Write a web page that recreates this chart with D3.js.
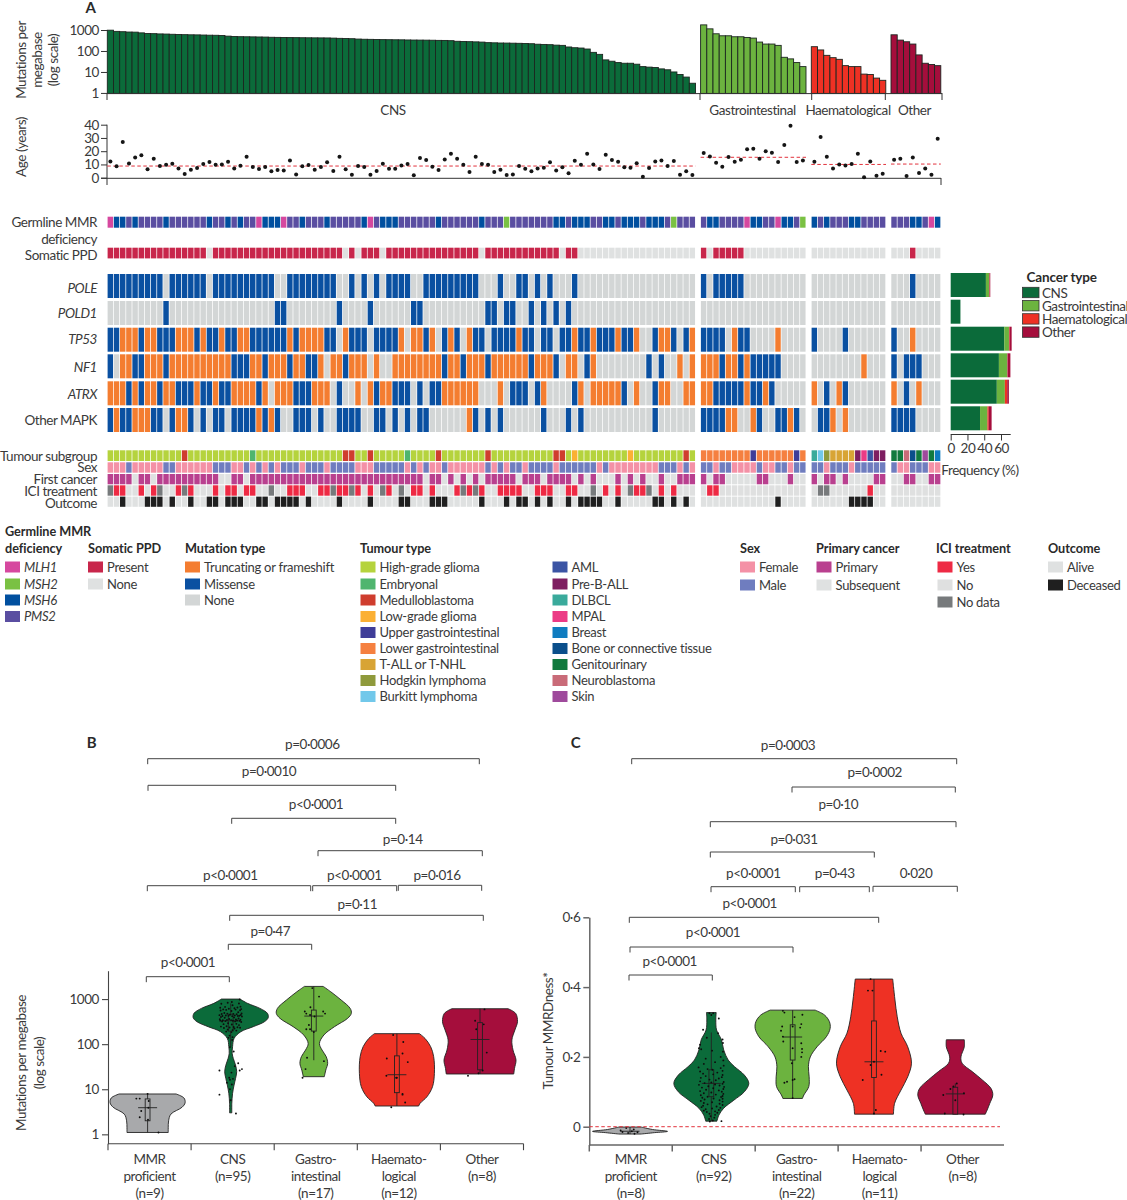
<!DOCTYPE html>
<html><head><meta charset="utf-8">
<script src="https://cdn.jsdelivr.net/npm/d3@7"></script>
<style>body{margin:0;background:#fff}svg{display:block}text{font-family:Lato,"Noto Sans",sans-serif;fill:#3a3a3a;letter-spacing:-.45px}</style>
</head><body><div id="c"></div>
<script>
// ---------- DATA ----------
const groupNames=["CNS","Gastrointestinal","Haematological","Other"];
const tmbCNS=[980,860,830,800,790,730,680,670,650,640,625,610,600,590,585,575,565,560,545,510,490,480,475,470,465,460,450,445,440,435,432,428,425,422,420,418,410,400,392,385,370,362,358,352,348,345,342,340,335,332,330,328,325,320,318,310,290,282,278,272,265,250,245,240,238,235,232,228,222,210,205,200,190,185,155,143,138,124,86,69,37.6,32.5,28,26,26,23.4,18,17,16.3,14,12.7,10,7.6,5.7,2.9];
const tmbGI=[1754,1135,660,530,530,476,476,442,411,266,214,214,185,50,42,28,18];
const tmbHaem=[160,112,62,48,40,20,18,18,7.9,7.6,5.1,4];
const tmbOther=[590,330,275,214,65,26,22.6,20];
const ageCNS=[12.3,8.6,27,10.8,15.3,17,6.3,14.3,8.8,9.8,10.6,7,2.8,6,7.3,10.3,11.8,9.8,10,12,7,9,15.8,8,6.5,8,4.8,5.8,5.5,13,2.5,8.6,9.6,6,8,11.6,5,15.8,6.3,2.3,8.8,8,2.3,5,10.6,6.8,6.8,9.3,10.3,1.8,14.8,13.3,8.3,5.8,13.8,18,14.3,9.8,4.3,15.8,10.3,9.8,4.3,6,2,2.5,8.8,6.8,4.8,7,7.5,11.6,5.5,7.8,3.3,12.8,9.8,18,10,6.5,17.3,13.3,12,7.8,7.5,11,0.8,7.3,12.3,13,8.8,12.6,2.3,4.8,2];
const ageGI=[18.6,16,11.3,8.3,15.6,12,13.6,21.4,21.9,14.3,20,18.9,11.8,24.7,39.2,11.8,13];
const ageHaem=[12,30.7,15.8,7,10,9.3,10.3,18,0.3,12.3,1.5,3];
const ageOther=[13.6,14.3,1.3,15.3,3.5,7,2.3,29.4];
const ageMedians=[8.8,15.4,10,10.3];

const rowGermline=["M66P6PPPP6 PPPPPP6PP6 P6PPM666MP P6PPP6PPPP P6MP666PPP PPP6PPPPPP 6PPPSPPPPP PP66P666PP 66P666P666 PSPPP","P66PPPPM66PPM66PS","6P6PPP66PPPP","PPP66PM6"];
const rowSomatic=["RRRRRRRRRR RRRRRRNRRR RRRRRRRRRR RRRRRRRRNR NRRRNRRRRR RRRRRRRRRR NRRRRRRRRR RRRNRRNNNN NNNNNNNNNN NNNNN","RNRRRRRNNNNNNNNNN","NNNNNNNNNNNN","NNNRNNNN"];
const rowPOLE=["MMMMMMMMMN MMMMMMNMMM MMMMMMMNNM MMMMMMMNNM NMNMNMMMMN NMMMMMMMMM NNNMNNMMNM NMNNNMNNNN NNNNNNNNNN NNNNN","MNMMMMMNNNNNNNNNN","NNNNNNNNNNNN","NNNMNNNN"];
const rowPOLD1=["NNNNNNNNNM NNNNNNNNNN NNNNNNNMMN NNNNNNNMNN NNMNNNNNNM MNNNNNNNNN NMMNMMNNMN MNMNMNNNNN NNNNNNNNNN NNNNN","NNNNNNNNNNNNNNNNN","NNNNNNNNNNNN","NNNNNNNN"];
const rowTP53=["MMTTTMTTMM MTTTMTMMTM MTTMMMMMMT MTTTTMMNTM MMNMMMMTNT TMTNMTMNTM MNMMMMTMMN MMNMMTMMTM MMTMMTNNMT TMNMT","MMMMNTMMNNNNTNNNN","MNNNNMNNNNNN","MNNTNNNN"];
const rowNF1=["MNTTMMTTTM TTTTTTTTTT MMMTTMTTTM TTMMTNTTMT TTNTNNTTTT TTTTMTTMTT TMTTTTTTMT TTMNTTNMTN NNNNNNNMNM NNTNT","TTTMTTMTMMMMMNNNN","NNNNNNNNTNNN","MNMMMNNN"];
const rowATRX=["TTTMTMTTMT TMMMTMMTMM TTTTMTNTTT MMMTTTNMNN TNTMTTMMMN MNMMTTTTTT NNNTNMMMNM TNNNNMTNTT TTTMNTNNMT TNNTT","TTMMMMMTMMTMNNNNN","TNMNTMNNNNNN","TNMNTNNN"];
const rowMAPK=["MTMMTTTMMN MTTMNMNMMN MMMMTMTMNN MMMNMNNMMM MNNMMNMNMN MMNNNNNNTM NMNMNNNNNN MNNNMNMNNN NNNNNNNNMN NNNNN","MMMMTTNNTMNNMMTMN","NMMTNTNNNNNN","MMMMNNNN"];
const rowTumour=["HHHHHHHHHH HHBHHHHHHH HHHEHHHHHH HHHHHHHHBB HHBHHHHHEH HHHBHHHHHH HBHHHHHHHH HHBBHYHHHH HHHHYHHHHH HHHBH","LLLLLLLLULLLLLLUL","DKOTTTTRPARR","GGXNGSGC"];
const rowSex=["FFFMFFFFFM MFFFFFFMMM FFMFMFMFMM MFMMMFMMMM FFFMMMMMFM FMFFMFFFFF FMFMFMMFMM MMFMMMMMMF MFFFFFFFFM MMFMF","MMFMMFFFFMFFMMFMM","MMFMMMFMMMMM","MFFMMMFF"];
const rowFirst=["PPPPSPPSPP PPPPPPPPSS PPSPPPPPPP PPPPPPPPPP PPPPPPPPPP PSPPSPSPSP SPPPPPSPPP SPPPPSPSPS SSPSPSPSSP SSPPP","PSPPSSSSSPPSSSPSS","PSPPSPSSSSPP","SSPPSSPP"];
const rowICI=["DYYNNYNYDN NYDYNNNYNY YNYYNNDNNY YYNNYYDYYD YNYNDYNDNY YNYNNNYDYD YNNYYYYNNY YYNNYYNNDN YNYNDYYDNY NYNNN","NYYNNNNNNNNNNNNNN","NDDNNNNNNYNN","NNNNNNNN"];
const rowOutcome=["AADAAADDDA DAADAADDAD DDAADDADDD DADAAAADAA AADAAAADDA AADDDAAAAA DAAADADDAD ADAADADDDD AADAAAAADD ADADA","AAAAAAAAAAAADAAAA","AAAAAADDDDAA","AAAAAAAA"];

const freqGenes=["POLE","POLD1","TP53","NF1","ATRX","Other MAPK"];
const freqCNS=[42,11.6,63.9,57.5,55,35];
const freqGI=[4,0,5.6,10,9.6,8.8];
const freqHaem=[0.3,0,0.8,0.3,2.8,1.6];
const freqOther=[0.9,0,2.4,3.4,2,3.4];

const violinCats=["MMR proficient","CNS","Gastrointestinal","Haematological","Other"];
const violinLabelsB=[["MMR","proficient","(n=9)"],["CNS","(n=95)"],["Gastro-","intestinal","(n=17)"],["Haemato-","logical","(n=12)"],["Other","(n=8)"]];
const violinLabelsC=[["MMR","proficient","(n=8)"],["CNS","(n=92)"],["Gastro-","intestinal","(n=22)"],["Haemato-","logical","(n=11)"],["Other","(n=8)"]];
// profiles: value, relative half-width
const bShapeMMR=[[7.85,.76],[6.4,.97],[5,1],[4,.92],[2.8,.62],[2,.56],[1.4,.55],[1.2,.55],[1.1,.55]];
const bShapeCNS=[[1000,.25],[803,.45],[622,.78],[482,.98],[386,1],[315,.9],[244,.6],[189,.27],[134,.09],[88,.05],[62,.04],[48,.07],[34,.13],[24.5,.16],[17.4,.13],[12.4,.09],[8.1,.05],[4.9,.03],[3,.03]];
const bShapeGI=[[1910,.25],[1456,.45],[952,.73],[622,.97],[482,1],[373,.9],[244,.55],[160,.27],[104,.15],[74,.22],[53,.33],[37.5,.37],[26.7,.32],[19,.28]];
const bShapeHaem=[[171,.6],[134,.75],[88,.9],[53,.98],[22.5,1],[11.4,.95],[6.8,.8],[4.9,.62],[4.25,.58]];
const bShapeOther=[[611,.75],[482,.95],[315,1],[206,.93],[124,.85],[74,.88],[44.5,.96],[29,.92],[21.8,.9]];
const cShapeMMR=[[-.001,.3],[-.008,.6],[-.0134,1],[-.017,.65],[-.021,.3]];
const cShapeCNS=[[.327,.13],[.306,.12],[.277,.14],[.249,.27],[.22,.33],[.191,.45],[.172,.62],[.148,.88],[.124,1],[.1,.88],[.076,.6],[.053,.33],[.033,.2],[.016,.15]];
const cShapeGI=[[.334,.6],[.32,.85],[.301,.98],[.282,1],[.258,.9],[.229,.65],[.2,.47],[.172,.42],[.143,.44],[.115,.43],[.091,.3],[.081,.26]];
const cShapeHaem=[[.423,.5],[.402,.52],[.363,.56],[.315,.62],[.268,.72],[.229,.9],[.182,1],[.143,.9],[.105,.72],[.067,.55],[.036,.52]];
const cShapeOther=[[.249,.24],[.229,.24],[.2,.15],[.182,.18],[.158,.45],[.134,.72],[.11,.95],[.091,1],[.067,.92],[.048,.85],[.036,.8]];
// box: whiskerTop, q3, median, q1, whiskerBottom
const bBoxes=[[7.85,6.1,3.9,2,1.1],[800,460,330,195,88],[1910,570,420,195,44],[171,55,21,8.4,4.25],[611,300,127,27,21.8]];
const cBoxes=[[-.001,-.008,-.013,-.018,-.021],[.27,.163,.124,.086,.016],[.334,.292,.257,.191,.081],[.423,.303,.186,.141,.036],[.124,.113,.094,.036,.036]];
// dots: values and jitter (fraction of the violin half-width)
const bDotsMMR=[6.2,6.2,7.9,3.3,2.4,3.9,1.1,5.5,2.1];
const bJitterMMR=[-.3,-.21,0,-.17,-.21,.02,.29,.03,.01];
const bJitterCNS=[.24,.03,-.08,.22,-.25,.05,.26,-.15,.18,-.28,.1,-.05,.28,-.2,.13,-.12,.25,-.27,.02,.2,-.17,.29,-.09,.07,-.24,.16,-.02,.27,-.3,.11,-.13,.23,-.06,.19,-.22,.04,.3,-.26,.09,-.16,.21,-.04,-.29,.14,.26,-.1,.01,-.21,.17,-.28,.06,.24,-.14,.12,-.23,.28,-.07,.15,-.19,.03,.22,-.11,-.26,.08,.18,-.03,.25,-.18,.1,-.08,.05,.15,-.12,.02,-.03,.05,-.06,.04,-.02,.08,.2,.11,.3,.24,-.3,.02,-.04,.06,-.02,-.1,.03,-.02,-.3,0,.14];
const bJitterGI=[-.04,.14,-.09,-.24,.25,.3,-.2,-.1,.02,-.13,-.2,-.1,0,-.18,.27,-.22,-.3];
const bJitterHaem=[-.1,.17,.15,-.27,.29,-.28,-.02,0,.15,.15,.22,-.15];
const bJitterOther=[.12,-.13,.1,-.1,.18,.07,-.04,-.32];
const cDotsMMR=[-.004,-.008,-.011,-.013,-.015,-.016,-.018,-.02];
const cJitterMMR=[-.1,.1,-.25,.05,-.2,.2,-.05,.12];
const cDotsCNS=[.325,.325,.32,.31,.278,.268,.255,.25,.24,.235,.225,.222,.218,.215,.2,.195,.19,.185,.18,.175,.17,.168,.165,.163,.16,.158,.155,.152,.15,.148,.145,.142,.14,.138,.135,.133,.13,.128,.127,.125,.123,.121,.12,.118,.116,.114,.112,.11,.108,.106,.104,.102,.1,.098,.096,.094,.092,.09,.088,.086,.085,.083,.081,.08,.078,.076,.074,.072,.07,.068,.066,.064,.062,.06,.058,.056,.054,.052,.05,.048,.046,.044,.042,.04,.037,.034,.03,.026,.022,.018,.016,.015];
const cJitterCNS=[-.05,.05,0,.2,-.22,.18,-.12,.3,.31,-.3,-.33,-.27,.02,.31,.25,-.15,.32,.1,-.2,.33,-.34,.25,-.1,.03,.3,-.3,.16,-.22,.05,.3,-.15,.28,-.28,.2,-.05,.12,-.3,.33,0,-.18,.3,.1,-.33,.22,-.08,.34,-.25,.05,.32,-.14,.2,-.3,.28,0,-.2,.32,.12,-.28,.3,-.1,.26,-.24,.06,.3,-.18,.22,-.28,.3,.02,-.2,.22,-.1,.3,-.22,.14,-.26,.24,.02,-.15,.2,-.2,.1,-.12,.16,-.05,.1,-.02,.08,-.06,.04,.27,-.04];
const cDotsGI=[.332,.327,.314,.321,.287,.275,.294,.284,.287,.244,.258,.239,.225,.223,.213,.2,.182,.126,.129,.134,.136,.082];
const cJitterGI=[-.26,-.22,.05,.26,-.28,-.31,.23,.2,0,-.25,-.26,.23,0,.25,.25,.23,-.02,-.22,-.15,0,.05,0];
const cDotsHaem=[.423,.39,.39,.217,.215,.177,.186,.149,.134,.048,.038];
const cJitterHaem=[-.09,-.16,-.04,.18,.3,-.09,0,.2,-.3,.05,0];
const cDotsOther=[.124,.115,.108,.096,.091,.076,.035,.038];
const cJitterOther=[.04,-.05,-.13,.23,-.32,0,.22,-.28];
// p-value brackets
const bracketsB=[["p=0·0006",147.7,479.3,758.7,312.3,744.7],["p=0·0010",148,395.7,785.3,269,771.7],["p<0·0001",231.7,395.7,818.3,316,804],["p=0·14",318,482.3,850.7,402.7,839.3],["p<0·0001",147.3,310.7,885.7,230.3,875.3],["p<0·0001",312.7,396.7,885.7,354.3,875.3],["p=0·016",398.3,481.7,885.3,437,875],["p=0·11",229.7,483.3,915.3,357.3,904],["p=0·47",228.3,311.7,944.3,270.3,931],["p<0·0001",146.3,229.3,976.7,188,962.7]];
const bracketsC=[["p=0·0003",631.7,956.7,758.7,788,745.3],["p=0·0002",792,955.3,787,874.7,772],["p=0·10",710.3,956,821.7,838.3,804],["p=0·031",710.3,874.3,852,794,839.7],["p<0·0001",711,795.3,886.7,753.3,873.7],["p=0·43",799.7,869.3,886.7,834.7,873.7],["0·020",873,957.3,886.3,916,873],["p<0·0001",629.3,878.7,917.3,749.7,903.7],["p<0·0001",630,793,947,713,932.3],["p<0·0001",629,712.3,975,669.7,961]];

// ---------- STYLE ----------
const cancerColor=["#0b6b3a","#6cb33f","#ee3124","#a50e3c"],greyCancer="#a8a9ab";
const germColor={M:"#d6489f",S:"#7ac143",6:"#004f9f",P:"#5a4ea1"};
const ppdColor={R:"#c8264b",N:"#dfe1e1"};
const mutColor={T:"#f47d30",M:"#0a50a1",N:"#d3d6d6"};
const tumourColor={H:"#b5d33d",E:"#4fb56e",B:"#cf3d2e",Y:"#fbb034",U:"#3f3d98",L:"#f58040",T:"#d8a435",O:"#8f9a3c",K:"#72c8ea",A:"#3b54a4",R:"#7e1e61",D:"#3aaa9b",P:"#ec3b85",C:"#0f7cc0",N:"#0b4f8b",G:"#117a3e",X:"#c96b78",S:"#9f4a9c"};
const sexColor={F:"#f491a6",M:"#6f7dbf"};
const firstColor={P:"#b9408f",S:"#dfe1e1"};
const iciColor={Y:"#ee2a44",N:"#dfe0e0",D:"#777a7c"};
const outColor={A:"#dfe1e1",D:"#1f1f1f"};

const W=1127,H=1200;
const svg=d3.select("#c").append("svg").attr("width",W).attr("height",H);
const txt=(x,y,s,o={})=>{const t=svg.append("text").attr("x",x).attr("y",y).attr("dy","0.35em").attr("font-size",o.size||13.5).attr("text-anchor",o.anchor||"start").text(s);
 if(o.italic)t.attr("font-style","italic");if(o.bold)t.attr("font-weight",700).style("fill","#2a2a2a");if(o.ls!==undefined)t.style("letter-spacing",o.ls+"px");if(o.rot)t.attr("transform",`rotate(-90 ${x} ${y})`);return t;};

// group bands
const groupRange=[[107.3,695.5],[700.6,806],[811.3,885.8],[891,940.8]];
const groupN=[tmbCNS,tmbGI,tmbHaem,tmbOther].map(a=>a.length);
const bands=groupN.map((n,i)=>d3.scaleBand().domain(d3.range(n)).range(groupRange[i]));

// ---------- top bars ----------
const yTmb=d3.scaleLog().domain([.95,1000]).range([93.4,30]);
[tmbCNS,tmbGI,tmbHaem,tmbOther].forEach((arr,g)=>{
 svg.append("g").selectAll("rect").data(arr).join("rect")
  .attr("x",(d,i)=>bands[g](i)).attr("width",bands[g].bandwidth())
  .attr("y",d=>yTmb(d)).attr("height",d=>yTmb.range()[0]-yTmb(d))
  .attr("fill",cancerColor[g]).attr("stroke","#1c2620").attr("stroke-width",.9);
});
const axStyle=(g,c="#333",w=1)=>{g.selectAll("line,path").attr("stroke",c).attr("stroke-width",w);g.selectAll("text").attr("font-size",13.5).style("fill","#3a3a3a").attr("font-family",'Lato,"Noto Sans",sans-serif');};
const gTmb=svg.append("g").attr("transform","translate(107,0)").call(d3.axisLeft(yTmb).tickValues([1,10,100,1000]).tickFormat(d3.format("d")).tickSize(6).tickPadding(2));
gTmb.select(".domain").remove();axStyle(gTmb);
const tickXs=[107,700,811.7,885.3,942];
svg.append("line").attr("x1",107).attr("x2",942).attr("y1",93.6).attr("y2",93.6).attr("stroke","#333");
svg.append("g").selectAll("line").data(tickXs).join("line").attr("x1",d=>d).attr("x2",d=>d).attr("y1",93).attr("y2",100).attr("stroke","#333");
[["CNS",393],["Gastrointestinal",752.5],["Haematological",848],["Other",914.5]].forEach(d=>txt(d[1],110,d[0],{anchor:"middle"}));
txt(21,60,"Mutations per",{anchor:"middle",rot:1});txt(37,60,"megabase",{anchor:"middle",rot:1});txt(53,60,"(log scale)",{anchor:"middle",rot:1});
txt(90.5,7.5,"A",{anchor:"middle",size:15,bold:1});

// ---------- age ----------
const yAge=d3.scaleLinear().domain([0,40]).range([177.7,124.7]);
const gAge=svg.append("g").attr("transform","translate(107,0)").call(d3.axisLeft(yAge).tickValues([0,10,20,30,40]).tickSize(6).tickPadding(2));
axStyle(gAge);gAge.select(".domain").attr("d","M0,124.7V185");
svg.append("line").attr("x1",101).attr("x2",941).attr("y1",178.3).attr("y2",178.3).attr("stroke","#333");
svg.append("line").attr("x1",941).attr("x2",941).attr("y1",178).attr("y2",185).attr("stroke","#333");
[ageCNS,ageGI,ageHaem,ageOther].forEach((arr,g)=>{
 const x=bands[g];
 svg.append("line").attr("x1",groupRange[g][0]).attr("x2",g==2?886:groupRange[g][1]).attr("y1",yAge(ageMedians[g])).attr("y2",yAge(ageMedians[g])).attr("stroke","#e2323c").attr("stroke-dasharray","3.5,2.5").attr("stroke-width",1);
 svg.append("g").selectAll("circle").data(arr).join("circle").attr("cx",(d,i)=>x(i)+x.bandwidth()/2).attr("cy",d=>yAge(d)).attr("r",2).attr("fill","#151515");
});
txt(21,147,"Age (years)",{anchor:"middle",rot:1});

// ---------- heat rows ----------
function heat(row,y0,y1,colors){
 row.forEach((s,g)=>{const x=bands[g];
  svg.append("g").selectAll("rect").data(Array.from(s.replace(/\s/g,""))).join("rect")
   .attr("x",(d,i)=>x(i)+.3).attr("width",x.bandwidth()-.75).attr("y",y0).attr("height",y1-y0).attr("fill",d=>colors[d]);
 });
}
heat(rowGermline,216.7,227.7,germColor);
heat(rowSomatic,247.7,258.4,ppdColor);
const mutY=[[rowPOLE,274],[rowPOLD1,301],[rowTP53,327.7],[rowNF1,354.3],[rowATRX,381.3],[rowMAPK,408]];
mutY.forEach(d=>heat(d[0],d[1],d[1]+24,mutColor));
heat(rowTumour,450.3,461,tumourColor);
heat(rowSex,462.3,472.7,sexColor);
heat(rowFirst,474,484.3,firstColor);
heat(rowICI,485.3,495.7,iciColor);
heat(rowOutcome,496.6,506.8,outColor);
const rl=(y,s,it)=>txt(97,y,s,{anchor:"end",italic:it});
rl(222,"Germline MMR");rl(239,"deficiency");rl(255.5,"Somatic PPD");
rl(288,"POLE",1);rl(313,"POLD1",1);rl(339,"TP53",1);rl(367,"NF1",1);rl(394,"ATRX",1);rl(420,"Other MAPK");
rl(456,"Tumour subgroup");rl(467.5,"Sex");rl(479,"First cancer");rl(491,"ICI treatment");rl(503,"Outcome");

// ---------- frequency stack ----------
const xF=d3.scaleLinear().domain([0,60]).range([950.7,1001]);
const fy=[273,299.7,326.7,353.3,379.7,406.3];
freqGenes.forEach((g,i)=>{let acc=0;
 [freqCNS,freqGI,freqHaem,freqOther].forEach((a,c)=>{
  svg.append("rect").attr("x",xF(acc)).attr("width",xF(a[i])-xF(0)).attr("y",fy[i]).attr("height",24).attr("fill",cancerColor[c]);acc+=a[i];});
});
const gF=svg.append("g").attr("transform","translate(0,434.5)").call(d3.axisBottom(xF).tickValues([0,20,40,60]).tickSize(6).tickSizeOuter(0).tickPadding(3));
gF.select(".domain").attr("d","M950.7,0H1010.7");axStyle(gF);
txt(980,470,"Frequency (%)",{anchor:"middle"});

// cancer legend
txt(1026.5,277.5,"Cancer type",{bold:1,ls:-.15});
groupNames.forEach((n,i)=>{const y=287.3+13.2*i;
 svg.append("rect").attr("x",1022.5).attr("y",y).attr("width",16.5).attr("height",10.4).attr("fill",cancerColor[i]).attr("stroke","#333").attr("stroke-width",.8);
 txt(1042,y+5.5,n);});

// ---------- main legend ----------
const leg=(title,tx,ty,sx,items,italic)=>{
 title.forEach((t,i)=>txt(tx,ty+17*i,t,{bold:1,size:12.7,ls:-.05}));
 items.forEach(d=>{
  svg.append("rect").attr("x",sx).attr("y",d[2]-5.5).attr("width",15).attr("height",11).attr("fill",d[1]);
  txt(sx+19,d[2],d[0],{italic,size:13,ls:-.28});});
};
const ys=[567,584,600,616.5,632.5,648.5,664.5,680.5,696.5];
leg(["Germline MMR","deficiency"],5,532,5,[["MLH1",germColor.M,ys[0]],["MSH2",germColor.S,ys[1]],["MSH6",germColor[6],ys[2]],["PMS2",germColor.P,ys[3]]],true);
leg(["Somatic PPD"],88,549,88,[["Present",ppdColor.R,567],["None",ppdColor.N,584]]);
leg(["Mutation type"],185,549,185,[["Truncating or frameshift",mutColor.T,567],["Missense",mutColor.M,584],["None",mutColor.N,600]]);
const tt1=[["High-grade glioma","H"],["Embryonal","E"],["Medulloblastoma","B"],["Low-grade glioma","Y"],["Upper gastrointestinal","U"],["Lower gastrointestinal","L"],["T-ALL or T-NHL","T"],["Hodgkin lymphoma","O"],["Burkitt lymphoma","K"]];
const tt2=[["AML","A"],["Pre-B-ALL","R"],["DLBCL","D"],["MPAL","P"],["Breast","C"],["Bone or connective tissue","N"],["Genitourinary","G"],["Neuroblastoma","X"],["Skin","S"]];
leg(["Tumour type"],360,549,360.5,tt1.map((d,i)=>[d[0],tumourColor[d[1]],ys[i]]));
leg([],552,549,552.5,tt2.map((d,i)=>[d[0],tumourColor[d[1]],ys[i]]));
leg(["Sex"],740,549,740,[["Female",sexColor.F,567],["Male",sexColor.M,585]]);
leg(["Primary cancer"],816,549,816.5,[["Primary",firstColor.P,567],["Subsequent",firstColor.S,585]]);
leg(["ICI treatment"],936,549,937.5,[["Yes",iciColor.Y,567],["No",iciColor.N,585],["No data",iciColor.D,602]]);
leg(["Outcome"],1048,549,1048,[["Alive",outColor.A,567],["Deceased",outColor.D,585]]);

// ---------- violins ----------
const vColors=[greyCancer,...cancerColor];
function violinPanel(o){
 const xB=d3.scaleBand().domain(violinCats).range(o.xRange);
 const xV=d3.scalePoint().domain(violinCats).range(o.vRange);
 const wS=d3.scaleLinear().domain([0,1]).range([0,37.5]);
 const area=d3.area().y(d=>o.y(d[0])).curve(d3.curveCatmullRom.alpha(.5));
 violinCats.forEach((c,i)=>{
  const cx=xV(c),shape=o.shapes[i],b=o.boxes[i];
  svg.append("path").datum(shape).attr("d",area.x0(d=>cx-wS(d[1])).x1(d=>cx+wS(d[1]))).attr("fill",vColors[i]).attr("stroke","#222").attr("stroke-width",.9);
  const s=svg.append("g").attr("stroke","#222").attr("stroke-width",.9);
  s.append("line").attr("x1",cx).attr("x2",cx).attr("y1",o.y(b[0])).attr("y2",o.y(b[4]));
  const bw=i==0&&o.tiny?0:2.4;
  s.append("rect").attr("x",cx-bw).attr("width",bw*2).attr("y",o.y(b[1])).attr("height",o.y(b[3])-o.y(b[1])).attr("fill",vColors[i]);
  s.append("line").attr("x1",cx-9.5).attr("x2",cx+9.5).attr("y1",o.y(b[2])).attr("y2",o.y(b[2]));
  svg.append("g").selectAll("circle").data(o.dots[i]).join("circle").attr("cx",(d,k)=>cx+wS(o.jit[i][k]||0)).attr("cy",d=>o.y(d)).attr("r",.95).attr("fill","#0d0d0d");
 });
 svg.append("line").attr("x1",o.xRange[0]).attr("x2",o.xRange[1]).attr("y1",o.base).attr("y2",o.base).attr("stroke",o.axis).attr("stroke-width",o.aw);
 d3.range(6).forEach(i=>{const x=o.xRange[0]+i*xB.step();if(i==5&&o.noEnd)return;
  svg.append("line").attr("x1",x).attr("x2",x).attr("y1",o.base).attr("y2",o.base+6.5).attr("stroke",o.axis).attr("stroke-width",o.aw);});
 violinCats.forEach((c,i)=>{const x=xB(c)+xB.bandwidth()/2;
  o.labels[i].forEach((t,k)=>txt(x,1159+17*k,t,{anchor:"middle"}));});
 const gy=svg.append("g").attr("transform",`translate(${o.xRange[0]},0)`).call(d3.axisLeft(o.y).tickValues(o.ticks).tickFormat(o.fmt).tickSize(6).tickPadding(3).tickSizeOuter(0));
 axStyle(gy,o.axis,o.aw);
 o.brackets.forEach(b=>{
  svg.append("path").attr("d",`M${b[1]},${b[3]+5.5}V${b[3]}H${b[2]}V${b[3]+5.5}`).attr("fill","none").attr("stroke","#444").attr("stroke-width",1);
  txt(b[4],b[5],b[0],{anchor:"middle"});
 });
}
violinPanel({xRange:[108,523.5],vRange:[147.6,480],base:1143.7,axis:"#444",aw:1.1,
 y:d3.scaleLog().domain([.62,4260]).range([1143.7,970.7]),ticks:[1,10,100,1000],fmt:d3.format("d"),
 shapes:[bShapeMMR,bShapeCNS,bShapeGI,bShapeHaem,bShapeOther],boxes:bBoxes,
 dots:[bDotsMMR,tmbCNS,tmbGI,tmbHaem,tmbOther],jit:[bJitterMMR,bJitterCNS,bJitterGI,bJitterHaem,bJitterOther],
 labels:violinLabelsB,brackets:bracketsB});
const yC=d3.scaleLinear().domain([-.0524,.6]).range([1145,917.3]);
violinPanel({xRange:[589.3,1004],vRange:[630,955.3],base:1145,axis:"#666",aw:1.5,noEnd:true,tiny:true,
 y:yC,ticks:[0,.2,.4,.6],fmt:d=>d===0?"0":String(d).replace(".","·"),
 shapes:[cShapeMMR,cShapeCNS,cShapeGI,cShapeHaem,cShapeOther],boxes:cBoxes,
 dots:[cDotsMMR,cDotsCNS,cDotsGI,cDotsHaem,cDotsOther],jit:[cJitterMMR,cJitterCNS,cJitterGI,cJitterHaem,cJitterOther],
 labels:violinLabelsC,brackets:bracketsC});
svg.append("line").attr("x1",589.3).attr("x2",1000).attr("y1",yC(0)).attr("y2",yC(0)).attr("stroke","#e2323c").attr("stroke-dasharray","3.5,2.5").attr("stroke-width",1);
txt(21,1063,"Mutations per megabase",{anchor:"middle",rot:1});txt(39,1063,"(log scale)",{anchor:"middle",rot:1});
txt(548,1031,"Tumour MMRDness*",{anchor:"middle",rot:1});
txt(91.5,742.5,"B",{anchor:"middle",size:15,bold:1});txt(575.5,742.5,"C",{anchor:"middle",size:15,bold:1});
</script></body></html>
